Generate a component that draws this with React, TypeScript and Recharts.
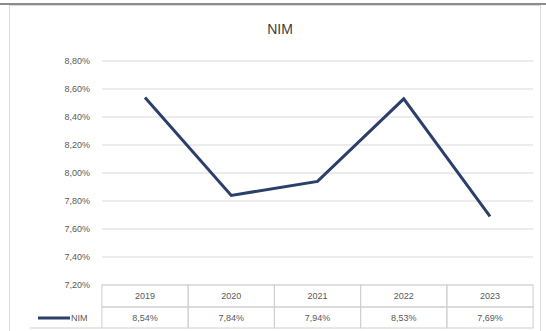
import { LineChart, Line, XAxis, YAxis, CartesianGrid } from "recharts";

const YEARS = ["2019", "2020", "2021", "2022", "2023"];
const NIM_VALUES = [8.54, 7.84, 7.94, 8.53, 7.69];
const Y_TICKS = [7.2, 7.4, 7.6, 7.8, 8.0, 8.2, 8.4, 8.6, 8.8];

const LINE_COLOR = "#2b3f6b";
const GRID_COLOR = "#d9d9d9";
const TABLE_COLOR = "#cfcfcf";
const TEXT_COLOR = "#595959";
const FONT = "'Liberation Sans', Arial, sans-serif";

const CELL_HALF = 43.1;
const ROW_H = 22;

const data = YEARS.map((year, i) => ({ year, nim: NIM_VALUES[i] }));

const pct = (v: number) => v.toFixed(2).replace(".", ",") + "%";

// data table under the plot, one column per category tick
function TableTick(props: any) {
  const { x, y, payload } = props;
  const i = payload.index;
  const left = x - CELL_HALF;
  const w = CELL_HALF * 2;
  return (
    <g>
      <rect x={left} y={y} width={w} height={ROW_H} fill="none" stroke={TABLE_COLOR} />
      <rect x={left} y={y + ROW_H} width={w} height={ROW_H - 1} fill="none" stroke={TABLE_COLOR} />
      <text x={x} y={y + ROW_H / 2 + 3} textAnchor="middle" fontSize={9} fill={TEXT_COLOR} fontFamily={FONT}>
        {payload.value}
      </text>
      <text x={x} y={y + ROW_H * 1.5 + 3} textAnchor="middle" fontSize={9} fill={TEXT_COLOR} fontFamily={FONT}>
        {pct(NIM_VALUES[i])}
      </text>
      {i === 0 && (
        <g>
          <line x1={30} x2={left} y1={y + ROW_H * 2 - 1} y2={y + ROW_H * 2 - 1} stroke={TABLE_COLOR} />
          <line x1={38} x2={70} y1={y + ROW_H * 1.5} y2={y + ROW_H * 1.5} stroke={LINE_COLOR} strokeWidth={3} />
          <text x={71} y={y + ROW_H * 1.5 + 3} fontSize={9} fill={TEXT_COLOR} fontFamily={FONT}>
            NIM
          </text>
        </g>
      )}
    </g>
  );
}

export default function App() {
  return (
    <div style={{ position: "absolute", left: 0, top: 0, width: 546, height: 331, background: "#fff", overflow: "hidden" }}>
      <div style={{ position: "absolute", left: 0, top: 3, width: 546, height: 2, background: "#8c8c8c" }} />
      <div style={{ position: "absolute", left: 9, top: 5, width: 532, height: 340, border: "1px solid #d9d9d9", boxSizing: "border-box" }} />
      <div
        style={{
          position: "absolute",
          left: 0,
          top: 21,
          width: 560,
          textAlign: "center",
          fontFamily: FONT,
          fontSize: 14,
          color: "#404040",
        }}
      >
        NIM
      </div>
      <div style={{ position: "absolute", left: 0, top: 0 }}>
        <LineChart width={546} height={331} data={data} margin={{ top: 61, right: 13, bottom: 0, left: 42 }}>
          <CartesianGrid vertical={false} stroke={GRID_COLOR} />
          <YAxis
            domain={[7.2, 8.8]}
            ticks={Y_TICKS}
            width={60}
            axisLine={false}
            tickLine={false}
            tickSize={0}
            tickMargin={12}
            tickFormatter={pct}
            tick={{ fontSize: 9, fill: TEXT_COLOR, fontFamily: FONT }}
          />
          <XAxis
            dataKey="year"
            height={46}
            axisLine={false}
            tickLine={false}
            tickSize={0}
            tickMargin={0}
            interval={0}
            padding={{ left: 43, right: 43 }}
            tick={<TableTick />}
          />
          <Line
            type="linear"
            dataKey="nim"
            stroke={LINE_COLOR}
            strokeWidth={3}
            dot={false}
            isAnimationActive={false}
          />
        </LineChart>
      </div>
    </div>
  );
}
